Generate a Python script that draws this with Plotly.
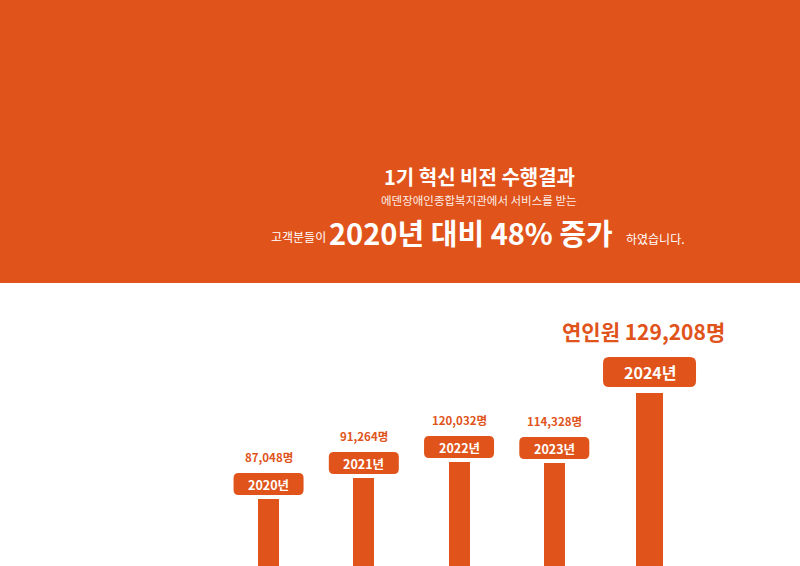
import plotly.graph_objects as go

years = ["2020년", "2021년", "2022년", "2023년", "2024년"]
visitors = ["87,048명", "91,264명", "120,032명", "114,328명", "129,208명"]
# visual bar levels as drawn in the infographic (not proportional to counts)
bar_level = [67, 88, 104, 103, 173]

ORANGE = "#E0541B"
FONT = "Noto Sans CJK KR"

fig = go.Figure()
widths = [0.22, 0.22, 0.22, 0.22, 0.275]
fig.add_trace(go.Bar(x=list(range(len(years))), y=bar_level, width=widths,
                     marker=dict(color=ORANGE, line=dict(width=0)),
                     hoverinfo="skip"))

shapes = []
annotations = []
# orange header band
shapes.append(dict(type="rect", xref="paper", yref="paper", x0=0, x1=1,
                   y0=(566 - 283) / 566, y1=1, fillcolor=ORANGE,
                   line=dict(width=0), layer="below"))


def rounded(x0, x1, y0, y1, r):
    return (f"M {x0+r},{y0} L {x1-r},{y0} Q {x1},{y0} {x1},{y0+r} "
            f"L {x1},{y1-r} Q {x1},{y1} {x1-r},{y1} L {x0+r},{y1} "
            f"Q {x0},{y1} {x0},{y1-r} L {x0},{y0+r} Q {x0},{y0} {x0+r},{y0} Z")


n = len(years)
for i, (yr, v, h) in enumerate(zip(years, visitors, bar_level)):
    last = i == n - 1
    if last:
        hw, b0, b1, fs_y = 46.5, 6, 36, 16
    else:
        hw, b0, b1, fs_y = 35, 4, 26, 12.5
    shapes.append(dict(type="path", xref="x", yref="y", xsizemode="pixel",
                       ysizemode="pixel", xanchor=i, yanchor=h,
                       path=rounded(-hw, hw, b0, b1, 6 if last else 5),
                       fillcolor=ORANGE, line=dict(width=0)))
    annotations.append(dict(x=i, y=h, xref="x", yref="y", text=f"<b>{yr}</b>",
                            showarrow=False, yanchor="middle", xanchor="center",
                            yshift=(b0 + b1) / 2,
                            font=dict(family=FONT, size=fs_y, color="white")))
    if last:
        annotations.append(dict(x=i, y=h, xref="x", yref="y",
                                text=f"<b>연인원 {v}</b>", showarrow=False,
                                yanchor="middle", xanchor="center",
                                yshift=62, xshift=-6,
                                font=dict(family=FONT, size=21, color=ORANGE)))
    else:
        annotations.append(dict(x=i, y=h, xref="x", yref="y",
                                text=f"<b>{v}</b>", showarrow=False,
                                yanchor="middle", xanchor="center", yshift=42,
                                font=dict(family=FONT, size=11.5, color=ORANGE)))

# header texts
annotations += [
    dict(x=479 / 800, y=1 - 176 / 566, xref="paper", yref="paper",
         text="<b>1기 혁신 비전 수행결과</b>", showarrow=False,
         font=dict(family=FONT, size=20, color="white"),
         yanchor="middle", xanchor="center"),
    dict(x=479 / 800, y=1 - 200 / 566, xref="paper", yref="paper",
         text="에덴장애인종합복지관에서 서비스를 받는", showarrow=False,
         font=dict(family=FONT, size=11.5, color="rgba(255,255,255,0.92)"),
         yanchor="middle", xanchor="center"),
    dict(x=298 / 800, y=1 - 236 / 566, xref="paper", yref="paper",
         text="고객분들이", showarrow=False,
         font=dict(family=FONT, size=12, color="white"),
         yanchor="middle", xanchor="center"),
    dict(x=471 / 800, y=1 - 232 / 566, xref="paper", yref="paper",
         text="<b>2020년 대비 48% 증가</b>", showarrow=False,
         font=dict(family=FONT, size=29, color="white"),
         yanchor="middle", xanchor="center"),
    dict(x=655 / 800, y=1 - 238 / 566, xref="paper", yref="paper",
         text="하였습니다.", showarrow=False,
         font=dict(family=FONT, size=12, color="white"),
         yanchor="middle", xanchor="center"),
]

fig.update_layout(
    width=800, height=566, margin=dict(l=0, r=0, t=0, b=0),
    paper_bgcolor="white", plot_bgcolor="rgba(0,0,0,0)",
    showlegend=False, shapes=shapes, annotations=annotations,
    xaxis=dict(range=[-2.82, 5.58], visible=False, fixedrange=True),
    yaxis=dict(range=[0, 566], visible=False, fixedrange=True),
    bargap=0,
)

fig.write_html("out.html", config={"displayModeBar": False})
